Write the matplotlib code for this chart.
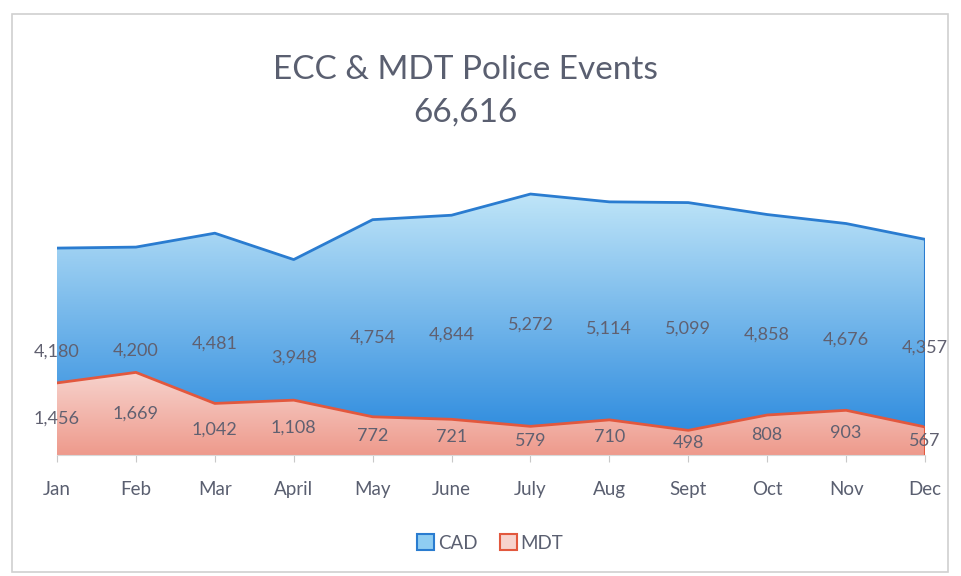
import matplotlib.pyplot as plt
import numpy as np
from matplotlib.colors import LinearSegmentedColormap
from matplotlib.patches import Patch, Rectangle

months = ['Jan', 'Feb', 'Mar', 'April', 'May', 'June', 'July', 'Aug', 'Sept', 'Oct', 'Nov', 'Dec']
cad = [4180, 4200, 4481, 3948, 4754, 4844, 5272, 5114, 5099, 4858, 4676, 4357]
mdt = [1456, 1669, 1042, 1108, 772, 721, 579, 710, 498, 808, 903, 567]
total = sum(cad) + sum(mdt)


def gradient_fill(ax, x, y, top_color, bottom_color, ymax, zorder):
    poly = ax.fill_between(x, 0, y, facecolor='none', edgecolor='none', zorder=zorder)
    cmap = LinearSegmentedColormap.from_list('g', [bottom_color, top_color])
    grad = np.linspace(0, 1, 256).reshape(-1, 1)
    im = ax.imshow(grad, cmap=cmap, aspect='auto', origin='lower',
                   extent=[x[0], x[-1], 0, ymax], zorder=zorder)
    path = poly.get_paths()[0]
    im.set_clip_path(path, transform=ax.transData)
    return im


def main():
    plt.rcParams['font.family'] = ['Lato', 'DejaVu Sans']
    fig = plt.figure(figsize=(9.61, 5.76), dpi=100)
    # light frame around the chart
    fig.patches.append(Rectangle((12 / 961, 4 / 576), 936 / 961, 558 / 576,
                                 transform=fig.transFigure, fill=False,
                                 edgecolor='#d0d0d0', linewidth=1.2))

    ax = fig.add_axes([57 / 961, 121 / 576, 868 / 961, 297 / 576])
    x = np.arange(len(months))
    ymax = 6000

    gradient_fill(ax, x, cad, '#bfe5f8', '#2284dc', max(cad), 1)
    ax.plot(x, cad, color='#2a7cd0', linewidth=2, zorder=3)
    gradient_fill(ax, x, mdt, '#f7d3cd', '#ee9a8c', max(mdt), 2)
    ax.plot(x, mdt, color='#e2583e', linewidth=2, zorder=3)
    ax.plot([x[-1], x[-1]], [mdt[-1], cad[-1]], color='#2a7cd0', linewidth=1.5, zorder=3)
    ax.plot([x[-1], x[-1]], [0, mdt[-1]], color='#e2583e', linewidth=1.5, zorder=3)

    for i in x:
        ax.text(i, cad[i] / 2, f'{cad[i]:,}', ha='center', va='center',
                fontsize=13, color='#606070', zorder=4)
        ax.text(i, mdt[i] / 2, f'{mdt[i]:,}', ha='center', va='center',
                fontsize=13, color='#606070', zorder=4)

    ax.set_xlim(0, len(months) - 1)
    ax.set_ylim(0, ymax)
    ax.set_yticks([])
    ax.set_xticks(x)
    ax.set_xticklabels(months, fontsize=13.5, color='#5a5f70')
    ax.tick_params(axis='x', length=5, color='#c8c8c8', pad=14)
    for s in ['top', 'right', 'left']:
        ax.spines[s].set_visible(False)
    ax.spines['bottom'].set_color('#d8d8d8')

    fig.text(465 / 961, 1 - 70 / 576, 'ECC & MDT Police Events', ha='center', va='center',
             fontsize=24, color='#5a5f70')
    fig.text(465 / 961, 1 - 113 / 576, f'{total:,}', ha='center', va='center',
             fontsize=24, color='#5a5f70')

    handles = [Patch(facecolor='#8fcdf2', edgecolor='#2a7cd0', linewidth=1.5, label='CAD'),
               Patch(facecolor='#f7d3cd', edgecolor='#e2583e', linewidth=1.5, label='MDT')]
    fig.legend(handles=handles, loc='center', bbox_to_anchor=(490 / 961, 1 - 543 / 576),
               ncol=2, frameon=False, fontsize=13.5, handlelength=0.9, handleheight=0.9,
               handletextpad=0.2, columnspacing=1.2, labelcolor='#5a5f70')

    fig.savefig('out.png', dpi=100)


main()
